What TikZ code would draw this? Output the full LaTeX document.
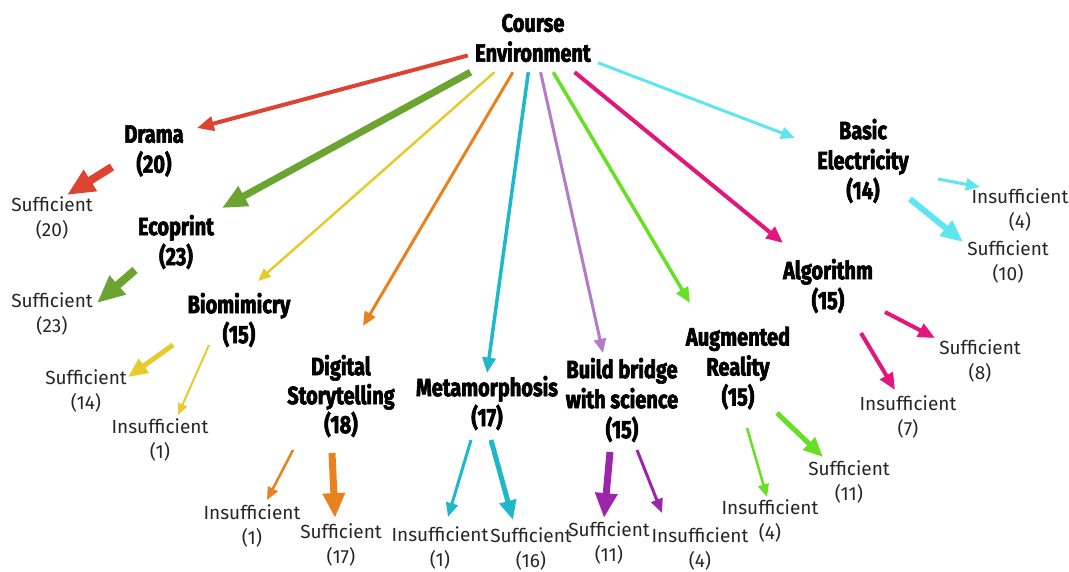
\documentclass[tikz,border=0pt]{standalone}
\usepackage{fontspec}
\setmainfont{Fira Sans}
\newfontfamily\headfont{Fira Sans}[FakeStretch=0.8, BoldFeatures={FakeBold=2.5}]
\usetikzlibrary{arrows.meta,calc}

\definecolor{cRed}{HTML}{DC4330}
\definecolor{cOlive}{HTML}{6CA432}
\definecolor{cYellow}{HTML}{E6CB2E}
\definecolor{cOrange}{HTML}{E8821F}
\definecolor{cTeal}{HTML}{1FB8CA}
\definecolor{cLilac}{HTML}{B47CC6}
\definecolor{cPurple}{HTML}{9A27A9}
\definecolor{cLime}{HTML}{66E022}
\definecolor{cPink}{HTML}{E2167C}
\definecolor{cCyan}{HTML}{5EE6F0}
\definecolor{cText}{HTML}{262626}

\begin{document}
\begin{tikzpicture}[x=1pt, y=-1pt,
  head/.style={font=\headfont\bfseries\fontsize{25}{30}\selectfont, align=center, inner sep=0pt},
  leaf/.style={font=\fontsize{19}{25}\selectfont, align=center, inner sep=0pt, text=cText},
  link/.style={draw=#1, -{Triangle[length=6pt 2.7, width=5pt 2.3]}}]

\useasboundingbox[fill=white] (0,0) rectangle (1069,572);

% root
\node[head, minimum width=130pt, minimum height=68pt] (ce) at (533,38) {Course\\Environment};

% course topics
\node[head] (drama) at (154,151) {Drama\\(20)};
\node[head] (eco)   at (176,242) {Ecoprint\\(23)};
\node[head] (bio)   at (239,320) {Biomimicry\\(15)};
\node[head, font=\headfont\bfseries\fontsize{25}{29}\selectfont] (dig) at (341,396) {Digital\\Storytelling\\(18)};
\node[head] (meta)  at (487,403) {Metamorphosis\\(17)};
\node[head] (build) at (622,400) {Build bridge\\with science\\(15)};
\node[head] (aug)   at (738,368) {Augmented\\Reality\\(15)};
\node[head] (algo)  at (828,286) {Algorithm\\(15)};
\node[head] (basic) at (863,161) {Basic\\Electricity\\(14)};

% outcomes
\node[leaf] (s20)  at (52,218)   {Sufficient\\(20)};
\node[leaf] (s23)  at (52,314)   {Sufficient\\(23)};
\node[leaf] (s14)  at (86,391)   {Sufficient\\(14)};
\node[leaf] (i1b)  at (160,440)  {Insufficient\\(1)};
\node[leaf] (i1d)  at (252,526)  {Insufficient\\(1)};
\node[leaf] (s17)  at (341,545)  {Sufficient\\(17)};
\node[leaf] (i1m)  at (440,548)  {Insufficient\\(1)};
\node[leaf] (s16)  at (531,549)  {Sufficient\\(16)};
\node[leaf] (s11p) at (609,543)  {Sufficient\\(11)};
\node[leaf] (i4p)  at (700,549)  {Insufficient\\(4)};
\node[leaf] (i4a)  at (770,521)  {Insufficient\\(4)};
\node[leaf] (s11g) at (849,482)  {Sufficient\\(11)};
\node[leaf] (s8)   at (980,361)  {Sufficient\\(8)};
\node[leaf] (i7)   at (908,417)  {Insufficient\\(7)};
\node[leaf] (i4b)  at (1020,210) {Insufficient\\(4)};
\node[leaf] (s10)  at (1008,262) {Sufficient\\(10)};

% root to topics
\draw[link=cRed,    line width=4pt]   (ce) -- ([shift={(43,-23)}]drama.center);
\draw[link=cOlive,  line width=7pt]   (ce) -- ([shift={(46,-34)}]eco.center);
\draw[link=cYellow, line width=2.5pt] (ce) -- ([shift={(19,-39)}]bio.center);
\draw[link=cOrange, line width=3pt]   (ce) -- ([shift={(22,-70)}]dig.center);
\draw[link=cTeal,   line width=3.5pt] (ce) -- ([shift={(0,-30)}]meta.center);
\draw[link=cLilac,  line width=3pt]   (ce) -- ([shift={(-19,-47)}]build.center);
\draw[link=cLime,   line width=3.5pt] (ce) -- ([shift={(-48,-65)}]aug.center);
\draw[link=cPink,   line width=4pt]   (ce) -- ([shift={(-45,-43)}]algo.center);
\draw[link=cCyan,   line width=3pt]   (ce) -- ([shift={(-68,-23)}]basic.center);

% topics to outcomes
\draw[link=cRed,    line width=8pt]   ([shift={(-42,16)}]drama.center) -- ([shift={(15,-23)}]s20.center);
\draw[link=cOlive,  line width=8pt]   ([shift={(-41,28)}]eco.center)   -- ([shift={(45,-11)}]s23.center);
\draw[link=cYellow, line width=5pt]   ([shift={(-66,25)}]bio.center)   -- ([shift={(42,-14)}]s14.center);
\draw[link=cYellow, line width=2pt]   ([shift={(-30,25)}]bio.center)   -- ([shift={(18,-25)}]i1b.center);
\draw[link=cOrange, line width=2.5pt] ([shift={(-48,54)}]dig.center)   -- ([shift={(15,-26)}]i1d.center);
\draw[link=cOrange, line width=7pt]   ([shift={(-9,57)}]dig.center)    -- ([shift={(-6,-27)}]s17.center);
\draw[link=cTeal,   line width=3pt]   ([shift={(-16,37)}]meta.center)  -- ([shift={(8,-31)}]i1m.center);
\draw[link=cTeal,   line width=5pt]   ([shift={(4,37)}]meta.center)    -- ([shift={(-18,-29)}]s16.center);
\draw[link=cPurple, line width=7pt]   ([shift={(-12,52)}]build.center) -- ([shift={(-5,-25)}]s11p.center);
\draw[link=cPurple, line width=3pt]   ([shift={(15,50)}]build.center)  -- ([shift={(-38,-36)}]i4p.center);
\draw[link=cLime,   line width=2.5pt] ([shift={(9,60)}]aug.center)     -- ([shift={(-3,-24)}]i4a.center);
\draw[link=cLime,   line width=5pt]   ([shift={(39,45)}]aug.center)    -- ([shift={(-26,-25)}]s11g.center);
\draw[link=cPink,   line width=4pt]   ([shift={(57,26)}]algo.center)   -- ([shift={(-45,-23)}]s8.center);
\draw[link=cPink,   line width=4pt]   ([shift={(33,47)}]algo.center)   -- ([shift={(-13,-27)}]i7.center);
\draw[link=cCyan,   line width=3pt]   ([shift={(75,18)}]basic.center)  -- ([shift={(-40,-23)}]i4b.center);
\draw[link=cCyan,   line width=6pt]   ([shift={(47,38)}]basic.center)  -- ([shift={(-45,-20)}]s10.center);

\end{tikzpicture}
\end{document}
